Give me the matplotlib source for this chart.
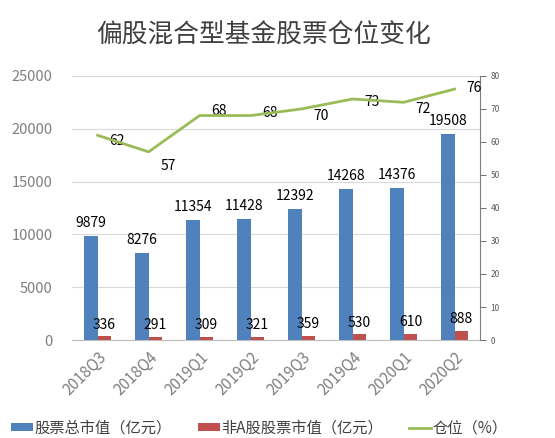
import matplotlib
matplotlib.use("Agg")
import matplotlib.pyplot as plt
import numpy as np

plt.rcParams['font.family'] = ['Noto Sans CJK SC', 'DejaVu Sans']

# data
quarters = ['2018Q3', '2018Q4', '2019Q1', '2019Q2', '2019Q3', '2019Q4', '2020Q1', '2020Q2']
total_value = [9879, 8276, 11354, 11428, 12392, 14268, 14376, 19508]
non_a_value = [336, 291, 309, 321, 359, 530, 610, 888]
position_pct = [62, 57, 68, 68, 70, 73, 72, 76]

blue = '#4F81BD'
red = '#C0504D'
green = '#9BBB59'
grey = '#595959'

fig = plt.figure(figsize=(5.55, 4.38), dpi=100)
ax = fig.add_axes([0.13, 0.2237, 0.735, 0.603])
ax2 = ax.twinx()

x = np.arange(len(quarters))
w = 0.27
b1 = ax.bar(x - w / 2, total_value, width=w, color=blue, label='股票总市值（亿元）', zorder=3)
b2 = ax.bar(x + w / 2, non_a_value, width=w, color=red, label='非A股股票市值（亿元）', zorder=3)

for xi, v in zip(x - w / 2, total_value):
    ax.text(xi, v + 550, str(v), ha='center', va='bottom', fontsize=10, color='black')
for xi, v in zip(x + w / 2, non_a_value):
    ax.text(xi, v + 450, str(v), ha='center', va='bottom', fontsize=10, color='black')

ax.set_ylim(0, 25000)
ax.set_yticks(range(0, 25001, 5000))
ax.set_xlim(-0.5, 7.5)
ax.set_xticks(x)
ax.set_xticklabels(quarters, rotation=45, ha='right', rotation_mode='anchor', fontsize=11, color='#7F7F7F')
ax.tick_params(axis='y', length=0, labelsize=10.5, colors='#7F7F7F', pad=14)
ax.tick_params(axis='x', length=0, pad=6)
ax.grid(axis='y', color='#D9D9D9', linewidth=0.8, zorder=0)
for s in ['top', 'left', 'right']:
    ax.spines[s].set_visible(False)
ax.spines['bottom'].set_color('#BFBFBF')

l1, = ax2.plot(x, position_pct, color=green, linewidth=2, label='仓位（%）', zorder=4)
offsets = [(14, -4), (14, -10), (14, 3), (14, 2), (14, -5), (14, -2), (14, -5), (14, 1)]
for xi, v, (dx, dy) in zip(x, position_pct, offsets):
    ax2.annotate(str(v), (xi, v), xytext=(dx, dy), textcoords='offset points',
                 ha='center', va='center', fontsize=10, color='black')
ax2.set_ylim(0, 80)
ax2.set_yticks(range(0, 81, 10))
ax2.tick_params(axis='y', labelsize=6, colors=grey, length=4, width=0.6)
for s in ['top', 'left', 'bottom']:
    ax2.spines[s].set_visible(False)
ax2.spines['right'].set_color('#7F7F7F')
ax2.spines['right'].set_linewidth(0.8)

fig.text(0.475, 0.92, '偏股混合型基金股票仓位变化', ha='center', va='center', fontsize=18.5, color='#404040')

fig.legend(handles=[b1, b2, l1], loc='lower center', bbox_to_anchor=(0.467, -0.028), ncol=3,
           frameon=False, fontsize=11, handlelength=1.45, handleheight=0.35, handletextpad=0.1,
           columnspacing=1.7, labelcolor='#404040')

fig.savefig('out.png', dpi=100)
